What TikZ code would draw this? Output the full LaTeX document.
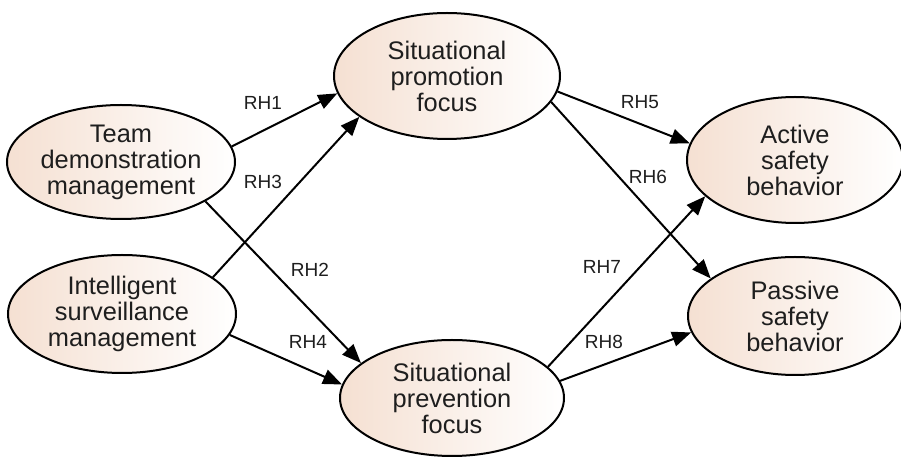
\documentclass[tikz,border=0pt]{standalone}
\usepackage{fontspec}
\setmainfont{Liberation Sans}
\usepackage{xcolor}
\usetikzlibrary{shapes.geometric, arrows.meta, positioning}

\definecolor{peach}{RGB}{245,224,210}
\definecolor{inktext}{RGB}{30,30,30}

\begin{document}
\begin{tikzpicture}[
        x=0.5pt, y=-0.5pt,
        construct/.style={ellipse, draw, line width=1pt, inner sep=0pt,
            left color=peach, right color=white, align=center,
            text=inktext, font=\fontsize{12.7}{13}\selectfont},
        link/.style={-{Triangle[length=9.5pt, width=7.5pt]}, line width=1pt},
        hyp/.style={text=inktext, font=\fontsize{9.5}{11}\selectfont}
    ]
        \useasboundingbox (0,0) rectangle (901,459);

        % Constructs
        \node[construct, minimum width=114pt, minimum height=57pt] (team) at (121,162) {Team\\demonstration\\management};
        \node[construct, minimum width=114pt, minimum height=59pt] (intel) at (122,314) {Intelligent\\surveillance\\management};
        \node[construct, minimum width=113pt, minimum height=63pt] (prom) at (447,76) {Situational\\promotion\\focus};
        \node[construct, minimum width=112pt, minimum height=58pt] (prev) at (452,398) {Situational\\prevention\\focus};
        \node[construct, minimum width=108pt, minimum height=63pt] (active) at (795,160) {Active\\safety\\behavior};
        \node[construct, minimum width=107pt, minimum height=59pt] (passive) at (795,316) {Passive\\safety\\behavior};

        % Paths
        \draw[link] (team.8) -- (prom.189);
        \draw[link] (intel.22) -- (prom.205);
        \draw[link] (team.335) -- (prev.159);
        \draw[link] (intel.349) -- (prev.173);
        \draw[link] (prom.352) -- (active.171);
        \draw[link] (prom.346) -- (passive.156);
        \draw[link] (prev.18) -- (active.202);
        \draw[link] (prev.9) -- (passive.189);

        % Hypothesis labels
        \node[hyp] (rh1) at (263,103) {RH1};
        \node[hyp] (rh3) at (263,182) {RH3};
        \node[hyp] (rh2) at (310,270) {RH2};
        \node[hyp] (rh4) at (308,342) {RH4};
        \node[hyp] (rh5) at (640,102) {RH5};
        \node[hyp] (rh6) at (648,177) {RH6};
        \node[hyp] (rh7) at (602,267) {RH7};
        \node[hyp] (rh8) at (604,342) {RH8};
    \end{tikzpicture}
\end{document}
